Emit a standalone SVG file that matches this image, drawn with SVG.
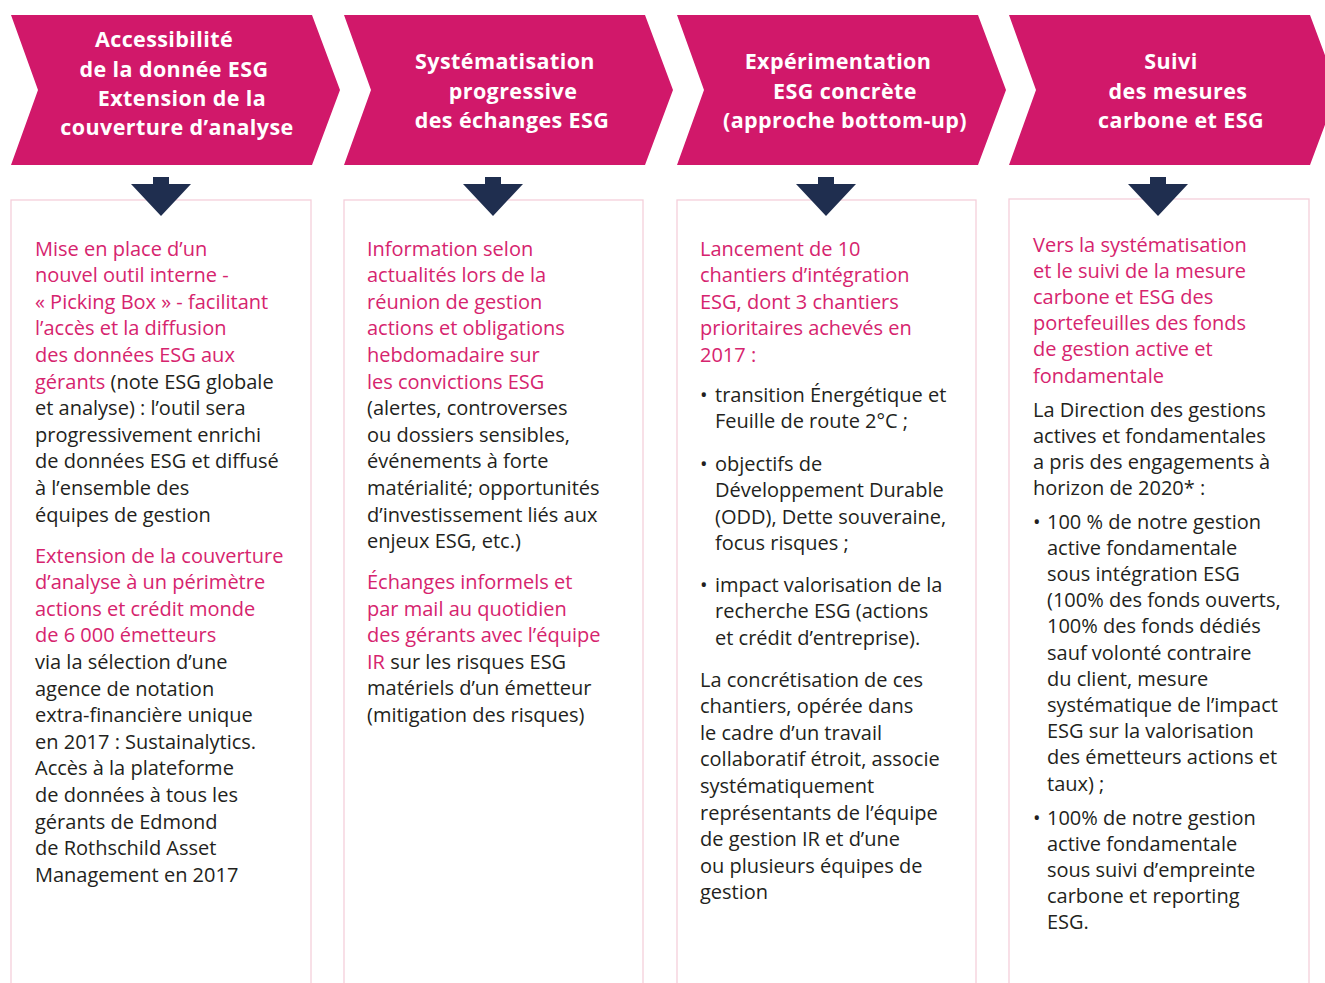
<svg xmlns="http://www.w3.org/2000/svg" width="1325" height="983" viewBox="0 0 1325 983">
  <style>
    .chev { fill: #d1186a; }
    .head { font-family: "Open Sans", "Liberation Sans", sans-serif; font-weight: 700; font-size: 21.5px; letter-spacing: 0.4px; fill: #ffffff; text-anchor: middle; }
    .arrow { fill: #1f2e4f; }
    .card { fill: #ffffff; stroke: #f4cfdb; stroke-width: 1.3; }
    .body { font-family: "Open Sans", "Liberation Sans", sans-serif; font-size: 20px; fill: #231f20; }
    .pk { fill: #d6246e; }
  </style>
  <defs>
    <path id="chevron" d="M0,0 H301 L329,75 L301,150 H0 L27,75 Z"/>
    <path id="down" d="M-8,0 H8 V7 H30 L0,39 L-30,7 H-8 Z"/>
  </defs>

  <rect width="1325" height="983" fill="#ffffff"/>

  <!-- stage 1 -->
  <g id="stage1">
    <use href="#chevron" class="chev" x="11" y="15"/>
    <text class="head">
      <tspan x="167" y="47">Accessibilité</tspan>
      <tspan x="177" y="77">de la donnée ESG</tspan>
      <tspan x="185" y="106">Extension de la</tspan>
      <tspan x="177" y="135">couverture d’analyse</tspan>
    </text>
  </g>
  <g id="card1">
    <rect class="card" x="11" y="200" width="300" height="800"/>
    <text class="body">
      <tspan class="pk" x="35" y="255.5">Mise en place d’un</tspan>
      <tspan class="pk" x="35" y="282.1">nouvel outil interne -</tspan>
      <tspan class="pk" x="35" y="308.7">« Picking Box » - facilitant</tspan>
      <tspan class="pk" x="35" y="335.3">l’accès et la diffusion</tspan>
      <tspan class="pk" x="35" y="361.9">des données ESG aux</tspan>
      <tspan x="35" y="388.5"><tspan class="pk">gérants</tspan> (note ESG globale</tspan>
      <tspan x="35" y="415.1">et analyse) : l’outil sera</tspan>
      <tspan x="35" y="441.7">progressivement enrichi</tspan>
      <tspan x="35" y="468.3">de données ESG et diffusé</tspan>
      <tspan x="35" y="494.9">à l’ensemble des</tspan>
      <tspan x="35" y="521.5">équipes de gestion</tspan>
      <tspan class="pk" x="35" y="562.5">Extension de la couverture</tspan>
      <tspan class="pk" x="35" y="589.1">d’analyse à un périmètre</tspan>
      <tspan class="pk" x="35" y="615.7">actions et crédit monde</tspan>
      <tspan class="pk" x="35" y="642.3">de 6 000 émetteurs</tspan>
      <tspan x="35" y="668.9">via la sélection d’une</tspan>
      <tspan x="35" y="695.5">agence de notation</tspan>
      <tspan x="35" y="722.1">extra-financière unique</tspan>
      <tspan x="35" y="748.7">en 2017 : Sustainalytics.</tspan>
      <tspan x="35" y="775.3">Accès à la plateforme</tspan>
      <tspan x="35" y="801.9">de données à  tous les</tspan>
      <tspan x="35" y="828.5">gérants de Edmond</tspan>
      <tspan x="35" y="855.1">de Rothschild Asset</tspan>
      <tspan x="35" y="881.7">Management en 2017</tspan>
    </text>
  </g>

  <!-- stage 2 -->
  <g id="stage2">
    <use href="#chevron" class="chev" x="344" y="15"/>
    <text class="head">
      <tspan x="508" y="69">Systématisation</tspan>
      <tspan x="516" y="99">progressive</tspan>
      <tspan x="512" y="128">des échanges ESG</tspan>
    </text>
  </g>
  <g id="card2">
    <rect class="card" x="344" y="200" width="299" height="800"/>
    <text class="body">
      <tspan class="pk" x="367" y="255.5">Information selon</tspan>
      <tspan class="pk" x="367" y="282.1">actualités lors de la</tspan>
      <tspan class="pk" x="367" y="308.7">réunion de gestion</tspan>
      <tspan class="pk" x="367" y="335.3">actions et obligations</tspan>
      <tspan class="pk" x="367" y="361.9">hebdomadaire sur</tspan>
      <tspan class="pk" x="367" y="388.5">les convictions ESG</tspan>
      <tspan x="367" y="415.1">(alertes, controverses</tspan>
      <tspan x="367" y="441.7">ou dossiers sensibles,</tspan>
      <tspan x="367" y="468.3">événements à forte</tspan>
      <tspan x="367" y="494.9">matérialité; opportunités</tspan>
      <tspan x="367" y="521.5">d’investissement liés aux</tspan>
      <tspan x="367" y="548.1">enjeux ESG, etc.)</tspan>
      <tspan class="pk" x="367" y="589">Échanges informels et</tspan>
      <tspan class="pk" x="367" y="615.6">par mail au quotidien</tspan>
      <tspan class="pk" x="367" y="642.2">des gérants avec l’équipe</tspan>
      <tspan x="367" y="668.8"><tspan class="pk">IR</tspan> sur les risques ESG</tspan>
      <tspan x="367" y="695.4">matériels d’un émetteur</tspan>
      <tspan x="367" y="722">(mitigation des risques)</tspan>
    </text>
  </g>

  <!-- stage 3 -->
  <g id="stage3">
    <use href="#chevron" class="chev" x="677" y="15"/>
    <text class="head">
      <tspan x="841" y="69">Expérimentation</tspan>
      <tspan x="848" y="99">ESG concrète</tspan>
      <tspan x="845" y="128">(approche bottom-up)</tspan>
    </text>
  </g>
  <g id="card3">
    <rect class="card" x="677" y="200" width="299" height="800"/>
    <text class="body">
      <tspan class="pk" x="700" y="255.5">Lancement de 10</tspan>
      <tspan class="pk" x="700" y="282.1">chantiers d’intégration</tspan>
      <tspan class="pk" x="700" y="308.7">ESG, dont 3 chantiers</tspan>
      <tspan class="pk" x="700" y="335.3">prioritaires achevés en</tspan>
      <tspan class="pk" x="700" y="361.9">2017 :</tspan>
      <tspan x="700" y="401.5">•</tspan><tspan x="715" y="401.5">transition Énergétique et</tspan>
      <tspan x="715" y="428.1">Feuille de route 2°C ;</tspan>
      <tspan x="700" y="470.5">•</tspan><tspan x="715" y="470.5">objectifs de</tspan>
      <tspan x="715" y="497.1">Développement Durable</tspan>
      <tspan x="715" y="523.7">(ODD), Dette souveraine,</tspan>
      <tspan x="715" y="550.3">focus risques ;</tspan>
      <tspan x="700" y="591.5">•</tspan><tspan x="715" y="591.5">impact valorisation de la</tspan>
      <tspan x="715" y="618.1">recherche ESG (actions</tspan>
      <tspan x="715" y="644.7">et crédit d’entreprise).</tspan>
      <tspan x="700" y="686.5">La concrétisation de ces</tspan>
      <tspan x="700" y="713.1">chantiers, opérée dans</tspan>
      <tspan x="700" y="739.7">le cadre d’un travail</tspan>
      <tspan x="700" y="766.3">collaboratif étroit, associe</tspan>
      <tspan x="700" y="792.9">systématiquement</tspan>
      <tspan x="700" y="819.5">représentants de l’équipe</tspan>
      <tspan x="700" y="846.1">de gestion IR et d’une</tspan>
      <tspan x="700" y="872.7">ou plusieurs équipes de</tspan>
      <tspan x="700" y="899.3">gestion</tspan>
    </text>
  </g>

  <!-- stage 4 -->
  <g id="stage4">
    <use href="#chevron" class="chev" x="1009" y="15"/>
    <text class="head">
      <tspan x="1174" y="69">Suivi</tspan>
      <tspan x="1181" y="99">des mesures</tspan>
      <tspan x="1181" y="128">carbone et ESG</tspan>
    </text>
  </g>
  <g id="card4">
    <rect class="card" x="1009" y="199" width="300" height="800"/>
    <text class="body">
      <tspan class="pk" x="1033" y="251.5">Vers la systématisation</tspan>
      <tspan class="pk" x="1033" y="277.7">et le suivi de la mesure</tspan>
      <tspan class="pk" x="1033" y="303.9">carbone et ESG des</tspan>
      <tspan class="pk" x="1033" y="330.1">portefeuilles des fonds</tspan>
      <tspan class="pk" x="1033" y="356.3">de gestion active et</tspan>
      <tspan class="pk" x="1033" y="382.5">fondamentale</tspan>
      <tspan x="1033" y="416.5">La Direction des gestions</tspan>
      <tspan x="1033" y="442.7">actives et fondamentales</tspan>
      <tspan x="1033" y="468.9">a pris des engagements à</tspan>
      <tspan x="1033" y="495.1">horizon de 2020* :</tspan>
      <tspan x="1033" y="528.5">•</tspan><tspan x="1047" y="528.5">100 % de notre gestion</tspan>
      <tspan x="1047" y="554.7">active fondamentale</tspan>
      <tspan x="1047" y="580.9">sous intégration ESG</tspan>
      <tspan x="1047" y="607.1">(100% des fonds ouverts,</tspan>
      <tspan x="1047" y="633.3">100% des fonds dédiés</tspan>
      <tspan x="1047" y="659.5">sauf volonté contraire</tspan>
      <tspan x="1047" y="685.7">du client, mesure</tspan>
      <tspan x="1047" y="711.9">systématique de l’impact</tspan>
      <tspan x="1047" y="738.1">ESG sur la valorisation</tspan>
      <tspan x="1047" y="764.3">des émetteurs actions et</tspan>
      <tspan x="1047" y="790.5">taux) ;</tspan>
      <tspan x="1033" y="824.5">•</tspan><tspan x="1047" y="824.5">100% de notre gestion</tspan>
      <tspan x="1047" y="850.7">active fondamentale</tspan>
      <tspan x="1047" y="876.9">sous suivi d’empreinte</tspan>
      <tspan x="1047" y="903.1">carbone  et reporting</tspan>
      <tspan x="1047" y="929.3">ESG.</tspan>
    </text>
  </g>

  <!-- connectors: arrows from each stage header down to its card, drawn over the card edge -->
  <g id="connectors">
    <use href="#down" class="arrow" x="161" y="177"/>
    <use href="#down" class="arrow" x="493" y="177"/>
    <use href="#down" class="arrow" x="826" y="177"/>
    <use href="#down" class="arrow" x="1158" y="177"/>
  </g>
</svg>
